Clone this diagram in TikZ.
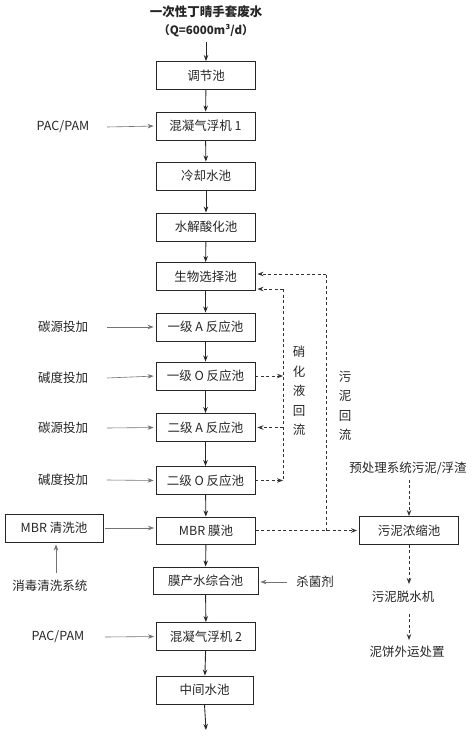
\documentclass[tikz,border=0pt]{standalone}
\usepackage{fontspec}
\setmainfont{Noto Sans CJK SC}
\usetikzlibrary{arrows.meta}
\begin{document}
\begin{tikzpicture}[x=1pt,y=-1pt,
  txt/.style={font=\fontsize{12.5}{15}\selectfont, inner sep=1pt, text=black!85},
  box/.style={txt, draw=black!85, line width=0.9pt, minimum width=99pt, minimum height=28pt, inner sep=0pt},
  flow/.style={draw=black!85, line width=0.9pt, -{Stealth[length=6pt,width=4.5pt]}},
  feed/.style={draw=black!55, line width=0.6pt, -{Stealth[length=6pt,width=4.5pt]}, shorten >=2pt},
  dline/.style={draw=black!80, line width=0.8pt, dash pattern=on 3pt off 2.5pt},
  ret/.style={dline, -{Stealth[length=6pt,width=4.5pt]}},
  vlab/.style={txt, align=center, font=\fontsize{12.5}{19.5}\selectfont}
]
\useasboundingbox (0,0) rectangle (474,737);

% title
\node[txt, font=\fontsize{12.5}{15}\selectfont\bfseries] (title) at (206,12) {一次性丁晴手套废水};
\node[txt, font=\fontsize{11.5}{14}\selectfont\bfseries] (q) at (206,31) {（Q=6000m³/d）};
\coordinate (qin) at (206,42);

% main column
\node[box] (b1) at (206,75.5) {调节池};
\node[box] (b2) at (205.5,126) {混凝气浮机 1};
\node[box] (b3) at (206,176) {冷却水池};
\node[box] (b4) at (206,227) {水解酸化池};
\node[box] (b5) at (205.5,276.5) {生物选择池};
\node[box] (b6) at (205.5,327) {一级 A 反应池};
\node[box] (b7) at (205.5,376) {一级 O 反应池};
\node[box] (b8) at (205.5,427.5) {二级 A 反应池};
\node[box] (b9) at (205.5,480.5) {二级 O 反应池};
\node[box, minimum height=27pt] (b10) at (206,530.5) {MBR 膜池};
\node[box, minimum width=105pt, minimum height=27pt] (b11) at (205.5,580.5) {膜产水综合池};
\node[box] (b12) at (206,636.5) {混凝气浮机 2};
\node[box, minimum width=97pt] (b13) at (204.5,690) {中间水池};
\coordinate (out) at (206,730);

\draw[flow] (qin) -- (b1.north);
\draw[flow] (b1) -- (b2);
\draw[flow] (b2) -- (b3);
\draw[flow] (b3) -- (b4);
\draw[flow] (b4) -- (b5);
\draw[flow] (b5) -- (b6);
\draw[flow] (b6) -- (b7);
\draw[flow] (b7) -- (b8);
\draw[flow] (b8) -- (b9);
\draw[flow] (b9) -- (b10);
\draw[flow] (b10) -- (b11);
\draw[flow] (b11) -- (b12);
\draw[flow] (b12) -- (b13);
\draw[flow] (b13.south) -- (out);

% left feeds
\node[txt] (p1) at (63,127) {PAC/PAM};
\node[txt] (c1) at (63,327) {碳源投加};
\node[txt] (a1) at (63,378) {碱度投加};
\node[txt] (c2) at (63,428) {碳源投加};
\node[txt] (a2) at (63,480) {碱度投加};
\node[txt] (p2) at (58,637) {PAC/PAM};
\draw[feed] (p1.east -| 107,0) -- (b2.west);
\draw[feed] (c1.east -| 107,0) -- (b6.west);
\draw[feed] (a1.east -| 107,0) -- (b7.west);
\draw[feed] (c2.east -| 107,0) -- (b8.west);
\draw[feed] (a2.east -| 107,0) -- (b9.west);
\draw[feed] (p2.east -| 105,0) -- (b12.west);

% MBR cleaning
\node[box, minimum width=98pt] (mc) at (54,528) {MBR 清洗池};
\node[txt] (dis) at (50,586) {消毒清洗系统};
\draw[feed] (mc.east -| 105,0) -- (b10.west |- mc.east);
\draw[feed] (56,573) -- (mc.south -| 56,0);

% bactericide
\node[txt] (bac) at (315,582) {杀菌剂};
\draw[feed] (bac.west -| 287,0) -- (b11.east |- bac.west);

% nitrification return
\coordinate (ntop) at (283,289);
\coordinate (nbot) at (283,480.5);
\draw[ret] (b7.east) -- (b7.east -| ntop);
\draw[ret] (b9.east) -- (b9.east -| ntop);
\draw[dline] (ntop) -- (nbot);
\draw[ret, shorten >=2pt] (ntop) -- (b5.east |- ntop);
\draw[ret, shorten >=2pt] (b8.east -| ntop) -- (b8.east);
\node[vlab] (nl) at (299,391) {硝\\化\\液\\回\\流};

% sludge
\node[box] (sn) at (409,530.5) {污泥浓缩池};
\coordinate (stop) at (326,274);
\draw[ret, shorten >=2pt] (b10.east) -- (sn.west);
\draw[dline] (b10.east -| stop) -- (stop);
\draw[ret, shorten >=2pt] (stop) -- (b5.east |- stop);
\node[vlab] (sl) at (345,406) {污\\泥\\回\\流};

\node[txt] (pre) at (408,468) {预处理系统污泥/浮渣};
\draw[ret] (pre.south -| sn.north) ++(0,4) -- (sn.north);
\node[txt] (dw) at (403,597) {污泥脱水机};
\draw[ret, shorten >=6pt] (sn.south) -- (sn.south |- dw.north);
\node[txt] (cake) at (407,652) {泥饼外运处置};
\draw[ret, shorten >=5pt] (dw.south -| sn.south) ++(0,10) -- (sn.south |- cake.north);
\end{tikzpicture}
\end{document}
